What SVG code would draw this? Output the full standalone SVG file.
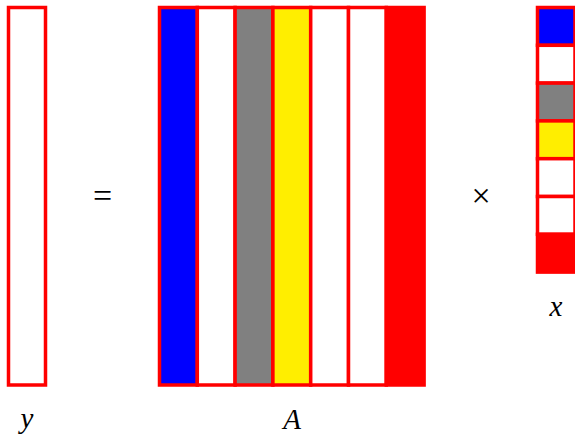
<svg xmlns="http://www.w3.org/2000/svg" width="575" height="435" viewBox="0 0 575 435">
<style>
.c{stroke:#ff0000;stroke-width:3.5}
.w{fill:#ffffff}
.b{fill:#0000ff}
.g{fill:#808080}
.ye{fill:#ffee00}
.r{fill:#ff0000}
.lbl{font-family:"Liberation Serif","DejaVu Serif",serif;font-style:italic;font-size:29px;fill:#000;text-anchor:middle}
.op{font-family:"Liberation Serif","DejaVu Serif",serif;font-size:34px;fill:#000;text-anchor:middle}
</style>
<rect width="575" height="435" fill="#ffffff"/>
<g id="vector-y">
<rect class="c w" x="8.5" y="7.5" width="37" height="377.5"/>
<text class="lbl" x="27" y="428">y</text>
</g>
<g id="equals">
<text class="op" x="102.5" y="207">=</text>
</g>
<g id="matrix-A">
<rect class="c b" x="159.5" y="7.5" width="37.8" height="377.5"/>
<rect class="c w" x="197.3" y="7.5" width="37.8" height="377.5"/>
<rect class="c g" x="235.1" y="7.5" width="37.8" height="377.5"/>
<rect class="c ye" x="272.9" y="7.5" width="37.8" height="377.5"/>
<rect class="c w" x="310.7" y="7.5" width="37.8" height="377.5"/>
<rect class="c w" x="348.5" y="7.5" width="37.8" height="377.5"/>
<rect class="c r" x="386.3" y="7.5" width="37.8" height="377.5"/>
<text class="lbl" x="292" y="429">A</text>
</g>
<g id="times">
<text class="op" x="481" y="207">×</text>
</g>
<g id="vector-x">
<rect class="c b" x="537.5" y="7.5" width="37.5" height="37.8"/>
<rect class="c w" x="537.5" y="45.3" width="37.5" height="37.8"/>
<rect class="c g" x="537.5" y="83.1" width="37.5" height="37.8"/>
<rect class="c ye" x="537.5" y="120.9" width="37.5" height="37.8"/>
<rect class="c w" x="537.5" y="158.7" width="37.5" height="37.8"/>
<rect class="c w" x="537.5" y="196.5" width="37.5" height="37.8"/>
<rect class="c r" x="537.5" y="234.3" width="37.5" height="37.8"/>
<text class="lbl" x="556" y="316">x</text>
</g>
<g id="connectors"></g>
</svg>
